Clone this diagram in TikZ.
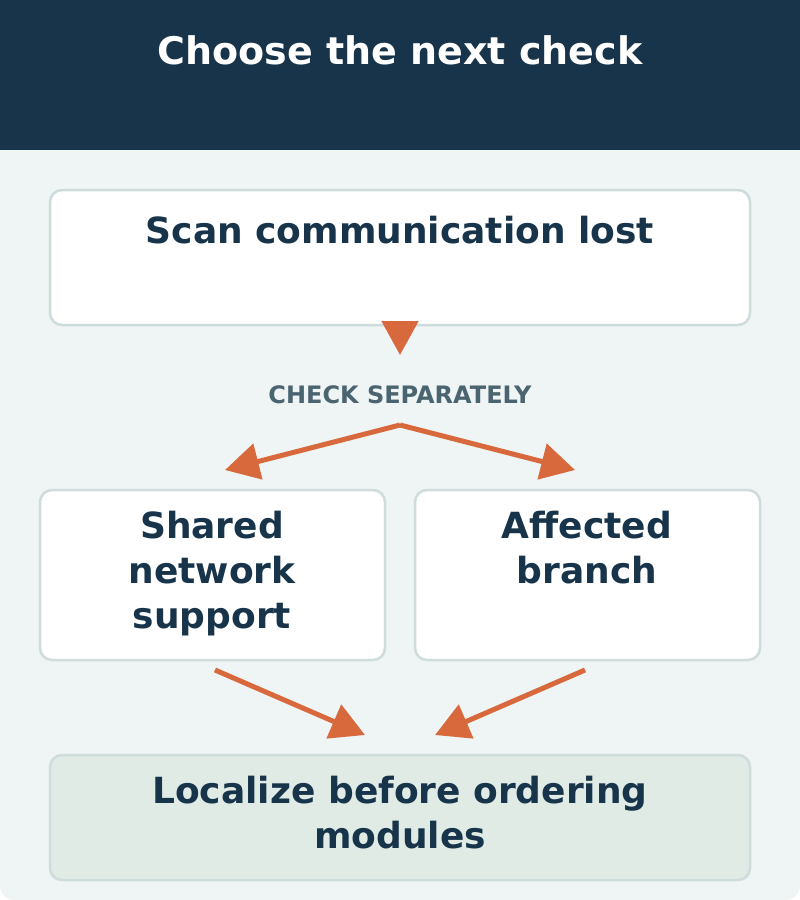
\documentclass[tikz,border=0pt]{standalone}
\usepackage{fontspec}
\setmainfont{DejaVu Sans}
\usetikzlibrary{arrows.meta}
\definecolor{navy}{HTML}{17344A}
\definecolor{paper}{HTML}{EFF4F4}
\definecolor{edge}{HTML}{CFDCDC}
\definecolor{mint}{HTML}{E0EBE6}
\definecolor{rust}{HTML}{D8693C}
\definecolor{slate}{HTML}{4A6470}
\tikzset{
  box/.style = {draw=edge, line width=2.5pt, rounded corners=12pt, fill=white},
  txt/.style = {font=\bfseries\fontsize{36}{45}\selectfont, text=navy, align=center},
  flow/.style = {draw=rust, line width=5pt, -{Triangle[length=34pt, width=36pt]}}
}
\begin{document}
\begin{tikzpicture}[x=1pt, y=-1pt]
    \useasboundingbox (0,0) rectangle (800,900);
    %\draw[help lines] (0,0) grid (800,900);
    \fill[paper, rounded corners=14pt] (0,0) rectangle (800,900);
    \fill[navy] (0,0) rectangle (800,150);
    \node[font=\bfseries\fontsize{38}{46}\selectfont, text=white] (title) at (400,50) {Choose the next check};
    % boxes
    \draw[box] (50,190) rectangle (750,325);
    \node[txt] (scan) at (400,230) {Scan communication lost};
    \draw[box] (40,490) rectangle (385,660);
    \node[txt, anchor=north] (shared) at (212,508) {Shared\\network\\support};
    \draw[box] (415,490) rectangle (760,660);
    \node[txt, anchor=north] (branch) at (587,508) {Affected\\branch};
    \draw[box, fill=mint] (50,755) rectangle (750,880);
    \node[txt, anchor=north] (local) at (400,773) {Localize before ordering\\modules};
    \node[font=\bfseries\fontsize{24}{28}\selectfont, text=slate] (sep) at (400,395) {CHECK SEPARATELY};
    % connector ends
    \coordinate (a0) at (400,322);
    \coordinate (a1) at (400,355);
    \coordinate (split) at (400,425);
    \coordinate (l) at (225,470);
    \coordinate (r) at (575,470);
    \coordinate (s0) at (215,670);
    \coordinate (s1) at (365,735);
    \coordinate (b0) at (585,670);
    \coordinate (b1) at (435,735);
    \draw[flow] (a0) -- (a1);
    \draw[flow] (split) -- (l);
    \draw[flow] (split) -- (r);
    \draw[flow] (s0) -- (s1);
    \draw[flow] (b0) -- (b1);
\end{tikzpicture}
\end{document}
